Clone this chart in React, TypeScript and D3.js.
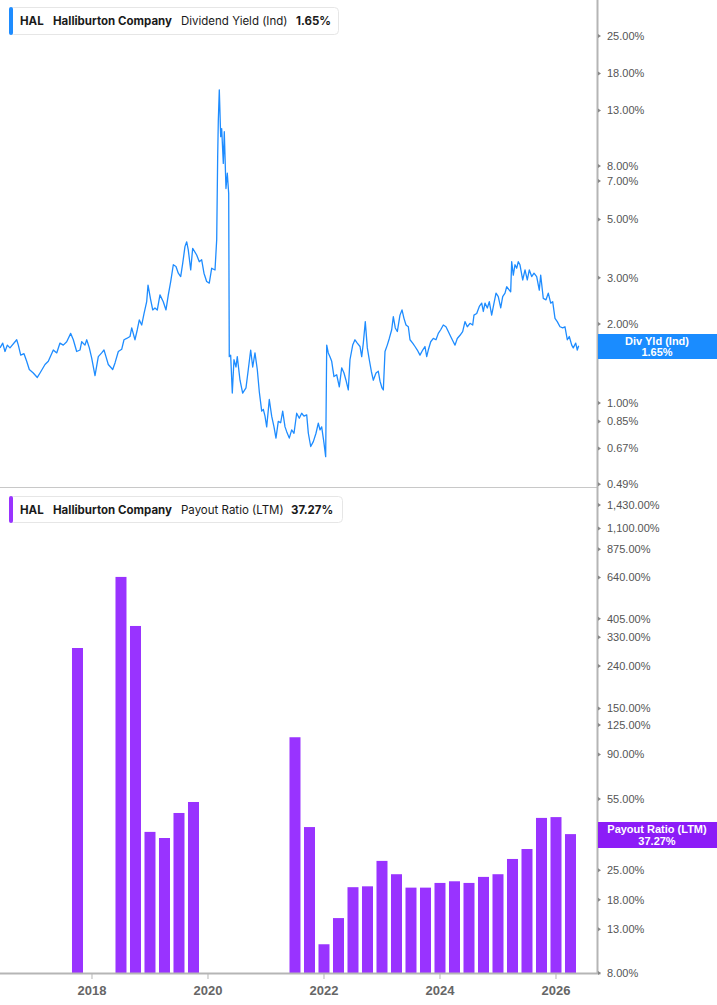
import React from "react";
import * as d3 from "d3";

// ---------- data ----------
const divDates = [
  2016.414, 2016.461, 2016.5, 2016.54, 2016.586, 2016.702, 2016.73, 2016.771, 2016.828, 2016.874,
  2016.919, 2016.988, 2017.057, 2017.104, 2017.19, 2017.247, 2017.333, 2017.392, 2017.448, 2017.505,
  2017.564, 2017.633, 2017.678, 2017.736, 2017.793, 2017.823, 2017.879, 2017.909, 2017.954, 2017.995,
  2018.052, 2018.109, 2018.167, 2018.207, 2018.241, 2018.281, 2018.357, 2018.397, 2018.454, 2018.512,
  2018.552, 2018.598, 2018.655, 2018.685, 2018.741, 2018.781, 2018.816, 2018.857, 2018.897, 2018.943,
  2018.966, 2019.012, 2019.047, 2019.086, 2019.126, 2019.172, 2019.229, 2019.276, 2019.316, 2019.357,
  2019.402, 2019.448, 2019.488, 2019.529, 2019.564, 2019.603, 2019.633, 2019.66, 2019.702, 2019.736,
  2019.805, 2019.85, 2019.891, 2019.931, 2019.977, 2020.022, 2020.064, 2020.121, 2020.15, 2020.167,
  2020.178, 2020.195, 2020.219, 2020.236, 2020.264, 2020.281, 2020.31, 2020.333, 2020.357, 2020.367,
  2020.391, 2020.419, 2020.448, 2020.483, 2020.505, 2020.552, 2020.598, 2020.655, 2020.695, 2020.736,
  2020.771, 2020.81, 2020.85, 2020.885, 2020.926, 2020.954, 2020.983, 2021.012, 2021.057, 2021.098,
  2021.138, 2021.172, 2021.212, 2021.253, 2021.288, 2021.328, 2021.357, 2021.402, 2021.443, 2021.483,
  2021.529, 2021.574, 2021.615, 2021.655, 2021.702, 2021.73, 2021.771, 2021.816, 2021.862, 2021.902,
  2021.931, 2021.96, 2022.0, 2022.029, 2022.047, 2022.074, 2022.103, 2022.133, 2022.172, 2022.219,
  2022.264, 2022.305, 2022.345, 2022.379, 2022.419, 2022.448, 2022.495, 2022.534, 2022.574, 2022.621,
  2022.65, 2022.678, 2022.712, 2022.747, 2022.781, 2022.816, 2022.85, 2022.897, 2022.936, 2022.966,
  2023.0, 2023.023, 2023.052, 2023.091, 2023.126, 2023.167, 2023.195, 2023.229, 2023.264, 2023.31,
  2023.345, 2023.379, 2023.414, 2023.454, 2023.483, 2023.529, 2023.569, 2023.609, 2023.655, 2023.702,
  2023.741, 2023.771, 2023.798, 2023.84, 2023.885, 2023.931, 2023.971, 2024.012, 2024.057, 2024.103,
  2024.143, 2024.184, 2024.229, 2024.259, 2024.298, 2024.345, 2024.391, 2024.431, 2024.471, 2024.517,
  2024.564, 2024.586, 2024.633, 2024.678, 2024.719, 2024.747, 2024.776, 2024.816, 2024.85, 2024.891,
  2024.931, 2024.966, 2025.005, 2025.047, 2025.081, 2025.121, 2025.15, 2025.195, 2025.219, 2025.236,
  2025.264, 2025.293, 2025.323, 2025.35, 2025.379, 2025.426, 2025.466, 2025.505, 2025.54, 2025.581,
  2025.621, 2025.667, 2025.712, 2025.736, 2025.781, 2025.828, 2025.867, 2025.909, 2025.943, 2025.983,
  2026.022, 2026.069, 2026.116, 2026.155, 2026.195, 2026.229, 2026.271, 2026.298, 2026.34, 2026.367,
  2026.391,
];
const divYield = [
  1.62, 1.69, 1.57, 1.66, 1.62, 1.74, 1.66, 1.52, 1.54, 1.44,
  1.34, 1.3, 1.25, 1.3, 1.4, 1.44, 1.59, 1.55, 1.69, 1.66,
  1.71, 1.84, 1.74, 1.57, 1.59, 1.71, 1.66, 1.74, 1.62, 1.48,
  1.27, 1.5, 1.55, 1.59, 1.5, 1.4, 1.34, 1.42, 1.57, 1.6,
  1.74, 1.76, 1.79, 1.93, 1.74, 1.9, 2.07, 1.98, 2.19, 2.43,
  2.81, 2.47, 2.26, 2.3, 2.26, 2.58, 2.43, 2.26, 2.58, 2.9,
  3.36, 3.31, 3.12, 3.03, 3.4, 3.94, 4.11, 3.83, 3.21, 3.88,
  3.66, 3.45, 3.51, 3.12, 2.9, 2.86, 3.26, 3.21, 4.18, 8.69,
  11.95, 15.6, 10.34, 11.1, 8.18, 10.8, 6.56, 7.5, 6.27, 1.5,
  1.52, 1.09, 1.46, 1.37, 1.5, 1.22, 1.09, 1.14, 1.34, 1.59,
  1.37, 1.55, 1.34, 1.1, 0.93, 0.945, 0.89, 0.81, 1.03, 0.89,
  0.81, 0.734, 0.85, 0.84, 0.93, 0.81, 0.777, 0.734, 0.789, 0.766,
  0.913, 0.874, 0.913, 0.89, 0.9, 0.766, 0.682, 0.712, 0.766, 0.837,
  0.789, 0.81, 0.702, 0.624, 1.66, 1.55, 1.5, 1.44, 1.26, 1.28,
  1.15, 1.36, 1.3, 1.22, 1.12, 1.46, 1.66, 1.74, 1.69, 1.64,
  1.5, 1.69, 2.04, 1.62, 1.46, 1.32, 1.22, 1.3, 1.32, 1.21,
  1.14, 1.12, 1.57, 1.66, 1.76, 1.9, 2.13, 1.93, 1.87, 2.16,
  2.26, 2.1, 1.98, 1.95, 1.74, 1.69, 1.64, 1.59, 1.52, 1.59,
  1.64, 1.5, 1.59, 1.71, 1.76, 1.74, 1.84, 1.9, 1.98, 1.95,
  1.87, 1.79, 1.71, 1.66, 1.76, 1.81, 1.87, 2.04, 1.95, 2.01,
  1.98, 2.16, 2.19, 2.33, 2.4, 2.23, 2.4, 2.3, 2.43, 2.16,
  2.4, 2.62, 2.54, 2.3, 2.54, 2.62, 2.77, 2.69, 2.65, 3.45,
  3.07, 3.36, 3.26, 3.45, 3.36, 2.94, 3.21, 2.94, 3.21, 3.03,
  3.12, 3.03, 2.69, 3.07, 2.5, 2.47, 2.62, 2.4, 2.43, 2.1,
  2.04, 1.95, 1.93, 1.95, 1.74, 1.79, 1.66, 1.62, 1.69, 1.59,
  1.65,
];

const payoutQuarters = [
  2017.75, 2018.5, 2018.75, 2019.0, 2019.25, 2019.5, 2019.75,
  2021.5, 2021.75, 2022.0, 2022.25, 2022.5, 2022.75, 2023.0, 2023.25, 2023.5, 2023.75,
  2024.0, 2024.25, 2024.5, 2024.75, 2025.0, 2025.25, 2025.5, 2025.75, 2026.0, 2026.25,
];
const payoutRatio = [
  293, 644, 374, 38.2, 35.7, 47.1, 53.2,
  109, 40.3, 11.0, 14.7, 20.7, 20.9, 27.7, 23.9, 20.6, 20.6,
  21.7, 22.1, 21.7, 23.2, 23.9, 28.3, 31.6, 44.6, 45.0, 37.27,
];

const xTickYears = [2018, 2020, 2022, 2024, 2026];
const topTicks = [25, 18, 13, 8, 7, 5, 3, 2, 1, 0.85, 0.67, 0.49];
const bottomTicks = [1430, 1100, 875, 640, 405, 330, 240, 150, 125, 90, 55, 25, 18, 13, 8];

// ---------- layout ----------
const W = 717;
const H = 1005;
const AX = 597.5;
const BLUE = "#1e8cff";
const BLUE_LABEL = "#1a8cff";
const PURPLE = "#9933ff";
const PURPLE_LABEL = "#8c1cf7";
const AXIS_COL = "#b5b5b5";
const TICK_TXT = "#555";

const fmt = (v: number) => d3.format(",.2f")(v) + "%";

export default function App() {
  const x = d3.scaleLinear().domain([2016.414, 2026.707]).range([0, 597]);
  const yTop = d3.scaleLog().domain([0.478, 34.3]).range([487, 0]);
  const yBot = d3.scaleLog().domain([8, 1687]).range([973, 490]);

  const line = d3
    .line<number>()
    .x((_, i) => x(divDates[i]))
    .y((d) => yTop(d))
    .curve(d3.curveLinear);

  const barW = 11;
  const axisFont = "'Liberation Sans', Arial, sans-serif";
  const legendFont = "Inter, Roboto, sans-serif";

  return (
    <svg
      width={W}
      height={H}
      style={{ position: "absolute", left: 0, top: 0, background: "#fff" }}
    >
      <defs>
        <clipPath id="clipTop">
          <rect x={0} y={0} width={597} height={487} />
        </clipPath>
        <clipPath id="clipBot">
          <rect x={0} y={490} width={597} height={483} />
        </clipPath>
      </defs>

      {/* top panel line */}
      <path
        d={line(divYield) || ""}
        fill="none"
        stroke={BLUE}
        strokeWidth={1.3}
        strokeLinejoin="round"
        clipPath="url(#clipTop)"
      />

      {/* bars */}
      <g clipPath="url(#clipBot)">
        {payoutRatio.map((v, i) => (
          <rect
            key={i}
            x={x(payoutQuarters[i]) - barW / 2}
            y={yBot(v)}
            width={barW}
            height={973 - yBot(v)}
            fill={PURPLE}
          />
        ))}
      </g>

      {/* separator */}
      <line x1={0} x2={AX} y1={487.5} y2={487.5} stroke="#c8c8c8" strokeWidth={1} />

      {/* right axis line */}
      <line x1={AX} x2={AX} y1={0} y2={974} stroke={AXIS_COL} strokeWidth={2} />
      {/* x axis line */}
      <line x1={0} x2={AX + 3} y1={973.5} y2={973.5} stroke={AXIS_COL} strokeWidth={2} />

      {/* top ticks */}
      {topTicks.map((t) => (
        <g key={"t" + t} transform={`translate(0,${yTop(t)})`}>
          <path d={`M${AX + 0.5},-2 L${AX + 3.5},0 L${AX + 0.5},2 Z`} fill="#888" />
          <text
            x={607}
            y={0}
            dy="0.35em"
            fontSize={11}
            fontFamily={axisFont}
            fill={TICK_TXT}
          >
            {fmt(t)}
          </text>
        </g>
      ))}

      {/* bottom ticks */}
      {bottomTicks.map((t) => (
        <g key={"b" + t} transform={`translate(0,${yBot(t)})`}>
          <path d={`M${AX + 0.5},-2 L${AX + 3.5},0 L${AX + 0.5},2 Z`} fill="#888" />
          <text
            x={607}
            y={0}
            dy="0.35em"
            fontSize={11}
            fontFamily={axisFont}
            fill={TICK_TXT}
          >
            {fmt(t)}
          </text>
        </g>
      ))}

      {/* x ticks */}
      {xTickYears.map((yr) => (
        <g key={"x" + yr} transform={`translate(${x(yr)},0)`}>
          <line y1={974} y2={979} stroke={AXIS_COL} strokeWidth={1} />
          <text
            y={995}
            textAnchor="middle"
            fontSize={13}
            fontWeight="bold"
            fontFamily={axisFont}
            fill="#666"
          >
            {yr}
          </text>
        </g>
      ))}

      {/* current value labels */}
      <rect x={598} y={334} width={119} height={25} fill={BLUE_LABEL} />
      <text x={657} y={345} textAnchor="middle" fontSize={11} fontWeight="bold" fontFamily={axisFont} fill="#fff">
        Div Yld (Ind)
      </text>
      <text x={657} y={356} textAnchor="middle" fontSize={11} fontWeight="bold" fontFamily={axisFont} fill="#fff">
        1.65%
      </text>

      <rect x={598} y={822} width={119} height={26} fill={PURPLE_LABEL} />
      <text x={657} y={833} textAnchor="middle" fontSize={11} fontWeight="bold" fontFamily={axisFont} fill="#fff">
        Payout Ratio (LTM)
      </text>
      <text x={657} y={845} textAnchor="middle" fontSize={11} fontWeight="bold" fontFamily={axisFont} fill="#fff">
        37.27%
      </text>

      {/* top legend */}
      <rect x={9.5} y={7.5} width={329} height={27} rx={4} fill="#fff" stroke="#e6e6e6" />
      <rect x={9} y={7} width={4} height={28} rx={2} fill={BLUE} />
      <g fontFamily={legendFont} fontSize={11.5} fill="#1a1a1a">
        <text x={20} y={25} fontWeight="bold">HAL</text>
        <text x={53} y={25} fontWeight="bold">Halliburton Company</text>
        <text x={181} y={25}>Dividend Yield (Ind)</text>
        <text x={296} y={25} fontWeight="bold">1.65%</text>
      </g>

      {/* bottom legend */}
      <rect x={9.5} y={496.5} width={333} height={26} rx={4} fill="#fff" stroke="#e6e6e6" />
      <rect x={9} y={496} width={4} height={27} rx={2} fill={PURPLE} />
      <g fontFamily={legendFont} fontSize={11.5} fill="#1a1a1a">
        <text x={20} y={514} fontWeight="bold">HAL</text>
        <text x={53} y={514} fontWeight="bold">Halliburton Company</text>
        <text x={181} y={514}>Payout Ratio (LTM)</text>
        <text x={291} y={514} fontWeight="bold">37.27%</text>
      </g>
    </svg>
  );
}
